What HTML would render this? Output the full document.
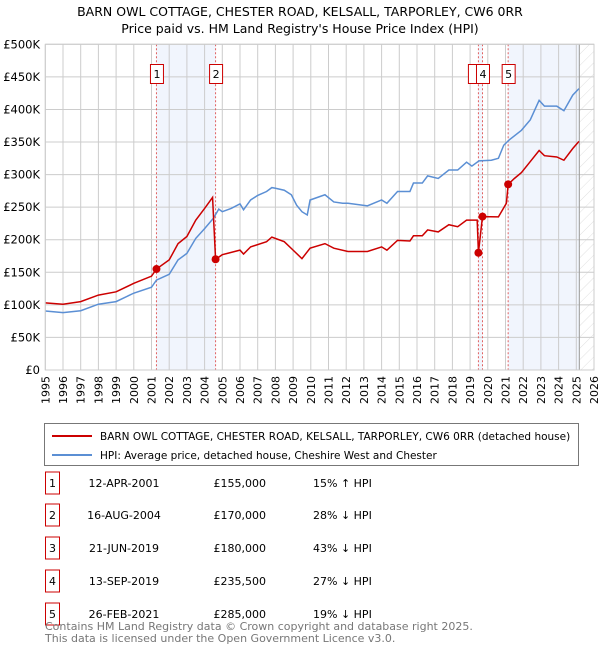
<!DOCTYPE html>
<html><head><meta charset="utf-8"><style>
body{margin:0;background:#fff;font-family:"Liberation Sans","DejaVu Sans",sans-serif;}
svg text{font-family:"DejaVu Sans","Liberation Sans",sans-serif;}
</style></head><body>
<svg id="chart" width="600" height="650" viewBox="0 0 600 650">
<defs><pattern id="hatch" width="8" height="8" patternUnits="userSpaceOnUse" patternTransform="rotate(45)"><line x1="0" y1="0" x2="0" y2="8" stroke="#d8d8d8" stroke-width="0.8"/></pattern></defs>
<text x="300" y="16" text-anchor="middle" font-size="12.5" fill="#000">BARN OWL COTTAGE, CHESTER ROAD, KELSALL, TARPORLEY, CW6 0RR</text>
<text x="300" y="33" text-anchor="middle" font-size="12.5" fill="#000">Price paid vs. HM Land Registry's House Price Index (HPI)</text>
<g id="plot"></g>
<g>
<rect x="44.5" y="423.5" width="534" height="42" fill="#fff" stroke="#777"/>
<line x1="52" y1="436" x2="92" y2="436" stroke="#cc0000" stroke-width="2"/>
<text x="100" y="440" font-size="10.5">BARN OWL COTTAGE, CHESTER ROAD, KELSALL, TARPORLEY, CW6 0RR (detached house)</text>
<line x1="52" y1="455" x2="92" y2="455" stroke="#5b8fd4" stroke-width="2"/>
<text x="100" y="459" font-size="10.5">HPI: Average price, detached house, Cheshire West and Chester</text>
</g>
<g id="table" font-size="11"></g>
<text x="45" y="630" font-size="11" fill="#777">Contains HM Land Registry data © Crown copyright and database right 2025.</text>
<text x="45" y="642" font-size="11" fill="#777">This data is licensed under the Open Government Licence v3.0.</text>
</svg>
<script>
const hpiYears=[1995,1996,1997,1998,1999,2000,2001,2001.28,2002,2002.5,2003,2003.5,2004,2004.5,2004.8,2005,2005.5,2006,2006.2,2006.6,2007,2007.5,2007.8,2008,2008.5,2008.9,2009.2,2009.5,2009.8,2009.96,2010.8,2011.3,2011.8,2012.1,2013.2,2014.0,2014.3,2014.9,2015.6,2015.8,2016.3,2016.6,2017.2,2017.8,2018.3,2018.8,2019.1,2019.5,2020.2,2020.6,2020.9,2021.2,2021.9,2022.4,2022.9,2023.2,2023.9,2024.3,2024.8,2025.15];
const hpiValues=[90.6,88,91,101,105,118,127,138,147,169,179,202,217,233,247,243,248,255,246,261,268,274,280,279,276,269,253,243,238,261,269,258,256,256,252,261,256,274,274,287,287,298,294,307,307,319,313,321,322,325,345,353,368,384,414,405,405,398,422,432];
const propYears=[1995,1996,1997,1998,1999,2000,2001,2001.28,2002,2002.5,2003,2003.5,2004,2004.45,2004.62,2005,2006,2006.2,2006.6,2007.5,2007.8,2008.5,2009,2009.5,2009.96,2010.8,2011.3,2012.1,2013.2,2014.0,2014.3,2014.9,2015.6,2015.8,2016.3,2016.6,2017.2,2017.8,2018.3,2018.8,2019.4,2019.47,2019.7,2020.6,2021.05,2021.15,2021.5,2021.9,2022.4,2022.9,2023.2,2023.9,2024.3,2024.8,2025.15];
const propValues=[103,101,105,115,120,133,144,155,169,194,205,230,248,265,170,177,184,178,189,197,204,197,184,171,187,194,187,182,182,189,184,199,198,206,206,215,212,223,220,230,230,180,235.5,235,256,285,294,303,320,337,329,327,322,340,351];
const saleLabels=["1","2","3","4","5"];
const saleYears=[2001.28,2004.62,2019.47,2019.70,2021.15];
const salePrices=[155,170,180,235.5,285];
const saleDates=["12-APR-2001","16-AUG-2004","21-JUN-2019","13-SEP-2019","26-FEB-2021"];
const salePriceText=["£155,000","£170,000","£180,000","£235,500","£285,000"];
const saleHpiText=["15% ↑ HPI","28% ↓ HPI","43% ↓ HPI","27% ↓ HPI","19% ↓ HPI"];
const yTickValues=[0,50,100,150,200,250,300,350,400,450,500];
const yTickLabels=["£0","£50K","£100K","£150K","£200K","£250K","£300K","£350K","£400K","£450K","£500K"];
const xTickYears=[1995,1996,1997,1998,1999,2000,2001,2002,2003,2004,2005,2006,2007,2008,2009,2010,2011,2012,2013,2014,2015,2016,2017,2018,2019,2020,2021,2022,2023,2024,2025,2026];
const dataEnd=2025.17;
const X0=45.3,X1=594,Y0=370,Y1=44.3;
const xs=y=>X0+(y-1995)/(2026-1995)*(X1-X0);
const ys=v=>Y0-v/500*(Y0-Y1);
const NS="http://www.w3.org/2000/svg";
const plot=document.getElementById('plot');
function mk(tag,attrs,parent){const e=document.createElementNS(NS,tag);for(const k in attrs)e.setAttribute(k,attrs[k]);(parent||plot).appendChild(e);return e;}
mk('rect',{x:X0,y:Y1,width:X1-X0,height:Y0-Y1,fill:'#fff'});
const spans=[[0,1],[2,3],[4,null]];
spans.forEach((s,i)=>{const a=xs(saleYears[s[0]]),b=s[1]===null?xs(dataEnd):xs(saleYears[s[1]]);
const r=mk('rect',{x:a,y:Y1,width:b-a,height:Y0-Y1,fill:'#eef3fc',opacity:0.8});

});
const h=mk('rect',{x:xs(dataEnd),y:Y1,width:X1-xs(dataEnd),height:Y0-Y1,fill:'url(#hatch)'});


xTickYears.forEach(y=>{mk('line',{x1:xs(y),x2:xs(y),y1:Y1,y2:Y0,stroke:'#ccc','stroke-width':1});
const t=mk('text',{x:0,y:0,'font-size':11,'text-anchor':'end',transform:`translate(${xs(y)+4},${Y0+6}) rotate(-90)`});t.textContent=y;

});
yTickValues.forEach((v,i)=>{mk('line',{x1:X0,x2:X1,y1:ys(v),y2:ys(v),stroke:'#ccc','stroke-width':1});
const t=mk('text',{x:40,y:ys(v)+4,'font-size':11.5,'text-anchor':'end'});t.textContent=yTickLabels[i];

});
mk('line',{x1:xs(dataEnd),x2:xs(dataEnd),y1:Y1,y2:Y0,stroke:'#999','stroke-width':1});
saleYears.forEach((y,i)=>{const l=mk('line',{x1:xs(y),x2:xs(y),y1:Y1,y2:Y0,stroke:'#e06060','stroke-width':1,'stroke-dasharray':'2,2'});

});
const hp=mk('polyline',{points:hpiYears.map((y,i)=>xs(y)+','+ys(hpiValues[i])).join(' '),fill:'none',stroke:'#5b8fd4','stroke-width':1.5});


const pp=mk('polyline',{points:propYears.map((y,i)=>xs(y)+','+ys(propValues[i])).join(' '),fill:'none',stroke:'#cc0000','stroke-width':1.5});


saleYears.forEach((y,i)=>{const c=mk('circle',{cx:xs(y),cy:ys(salePrices[i]),r:4,fill:'#cc0000'});


const bx=xs(y)-(i===2?10:6);const g=mk('g',{});


mk('rect',{x:bx,y:64.5,width:13,height:19,fill:'#fff',stroke:'#cc0000'},g);
const t=mk('text',{x:bx+6.5,y:78,'font-size':11,'text-anchor':'middle'},g);t.textContent=i===2?'':saleLabels[i];});
mk('rect',{x:X0,y:Y1,width:X1-X0,height:Y0-Y1,fill:'none',stroke:'#ccc'});
const tb=document.getElementById('table');
const rowY=[482,514,547,580,613];
saleLabels.forEach((s,i)=>{const g=mk('g',{},tb);


mk('rect',{x:45.5,y:rowY[i]-10,width:14,height:22,fill:'#fff',stroke:'#cc0000'},g);
let t=mk('text',{x:52.5,y:rowY[i]+5,'text-anchor':'middle'},g);t.textContent=s;
t=mk('text',{x:124,y:rowY[i]+5,'text-anchor':'middle'},g);t.textContent=saleDates[i];
t=mk('text',{x:266,y:rowY[i]+5,'text-anchor':'end'},g);t.textContent=salePriceText[i];
t=mk('text',{x:313,y:rowY[i]+5},g);t.textContent=saleHpiText[i];});
</script>
</body></html>
